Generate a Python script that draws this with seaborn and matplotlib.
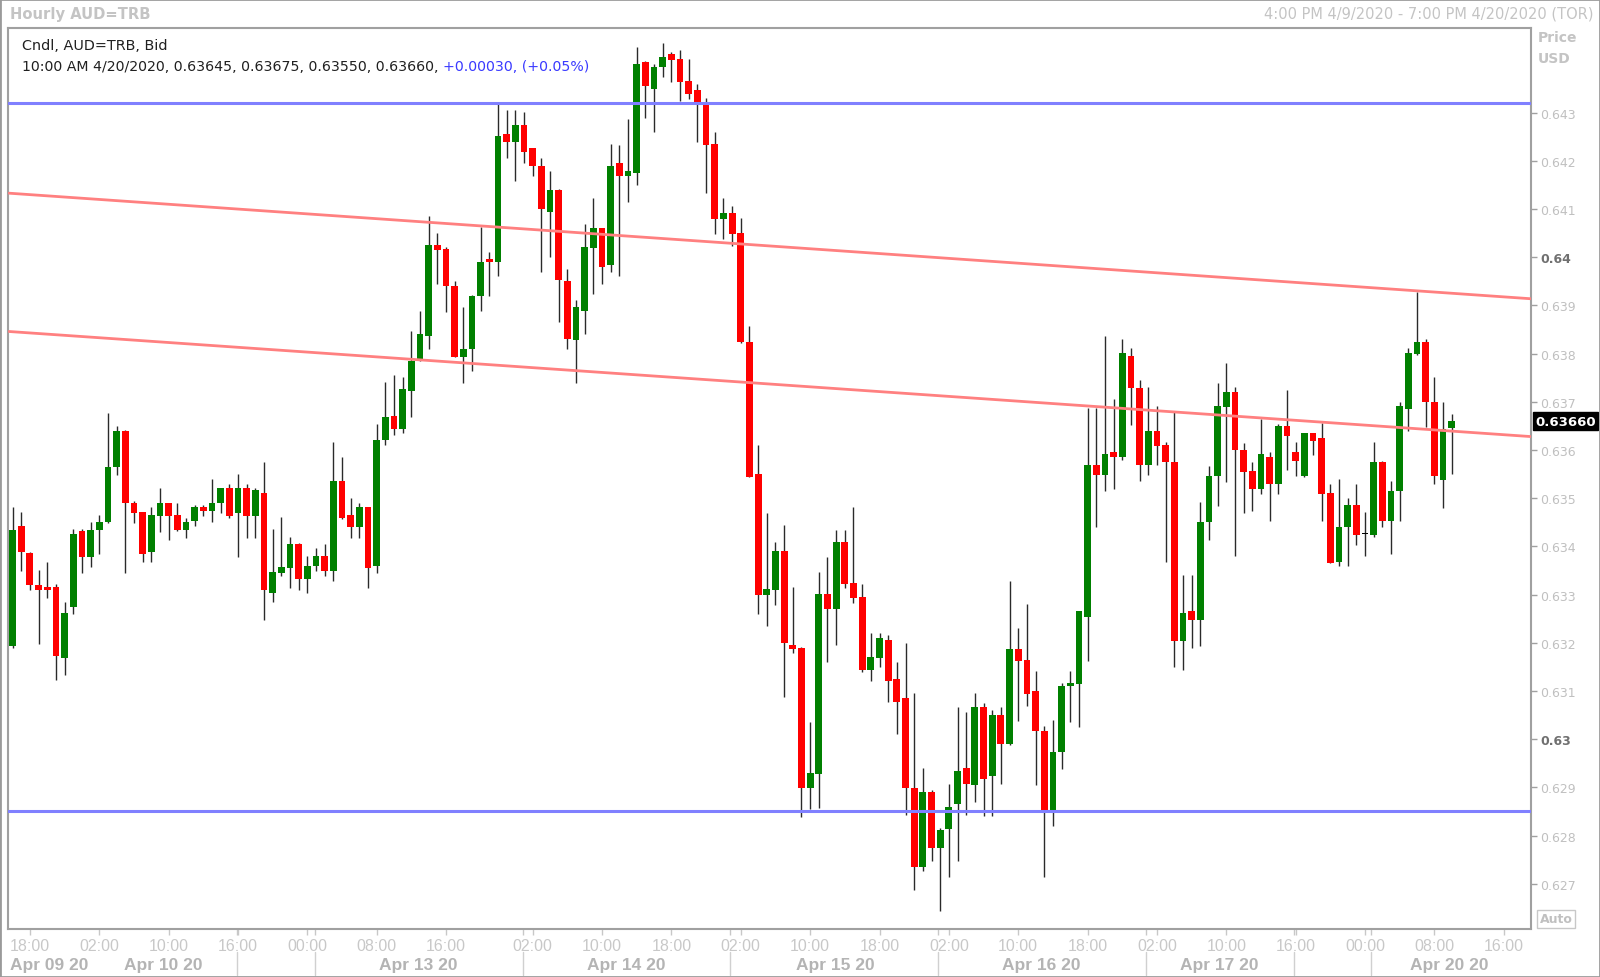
import numpy as np
import matplotlib
matplotlib.use('Agg')
import matplotlib.pyplot as plt
import matplotlib.transforms as mtransforms
from matplotlib.patches import Rectangle
import seaborn as sns

# hourly AUD candles, 4:00 PM 4/9/2020 .. 10:00 AM 4/20/2020
opens = [
    0.63194, 0.63442, 0.63386, 0.63321, 0.63315, 0.63315, 0.63169, 0.63274, 0.63431, 0.63379,
    0.63434, 0.63450, 0.63564, 0.63640, 0.63490, 0.63471, 0.63388, 0.63464, 0.63490, 0.63465,
    0.63434, 0.63453, 0.63481, 0.63474, 0.63490, 0.63521, 0.63469, 0.63521, 0.63464, 0.63511,
    0.63303, 0.63345, 0.63355, 0.63406, 0.63332, 0.63359, 0.63380, 0.63348, 0.63536, 0.63465,
    0.63440, 0.63481, 0.63359, 0.63621, 0.63670, 0.63644, 0.63723, 0.63789, 0.63836, 0.64025,
    0.64017, 0.63941, 0.63794, 0.63810, 0.63920, 0.63996, 0.63990, 0.64255, 0.64240, 0.64274,
    0.64226, 0.64190, 0.64095, 0.64140, 0.63951, 0.63829, 0.63889, 0.64019, 0.64060, 0.63983,
    0.64196, 0.64169, 0.64175, 0.64406, 0.64349, 0.64394, 0.64422, 0.64411, 0.64366, 0.64347,
    0.64318, 0.64235, 0.64079, 0.64092, 0.64050, 0.63825, 0.63550, 0.63300, 0.63309, 0.63390,
    0.63195, 0.63190, 0.62899, 0.62928, 0.63301, 0.63270, 0.63409, 0.63324, 0.63295, 0.63143,
    0.63169, 0.63206, 0.63125, 0.63086, 0.62899, 0.62734, 0.62890, 0.62774, 0.62813, 0.62865,
    0.62941, 0.62904, 0.63066, 0.62923, 0.63051, 0.62990, 0.63187, 0.63165, 0.63101, 0.63017,
    0.62849, 0.62974, 0.63111, 0.63115, 0.63254, 0.63570, 0.63549, 0.63596, 0.63585, 0.63795,
    0.63729, 0.63569, 0.63640, 0.63610, 0.63576, 0.63204, 0.63267, 0.63248, 0.63450, 0.63546,
    0.63689, 0.63720, 0.63601, 0.63557, 0.63519, 0.63585, 0.63530, 0.63650, 0.63595, 0.63546,
    0.63635, 0.63624, 0.63511, 0.63367, 0.63440, 0.63485, 0.63425, 0.63424, 0.63576, 0.63453,
    0.63516, 0.63685, 0.63799, 0.63825, 0.63699, 0.63538, 0.63645]
highs = [
    0.63481, 0.63471, 0.63388, 0.63351, 0.63367, 0.63322, 0.63285, 0.63436, 0.63436, 0.63451,
    0.63465, 0.63677, 0.63650, 0.63642, 0.63495, 0.63472, 0.63481, 0.63521, 0.63491, 0.63490,
    0.63460, 0.63485, 0.63485, 0.63540, 0.63522, 0.63530, 0.63550, 0.63530, 0.63521, 0.63576,
    0.63436, 0.63462, 0.63419, 0.63407, 0.63381, 0.63396, 0.63406, 0.63616, 0.63586, 0.63500,
    0.63490, 0.63482, 0.63655, 0.63741, 0.63756, 0.63751, 0.63846, 0.63889, 0.64085, 0.64050,
    0.64021, 0.63951, 0.63896, 0.63921, 0.64063, 0.64012, 0.64318, 0.64306, 0.64306, 0.64301,
    0.64227, 0.64207, 0.64180, 0.64141, 0.63976, 0.63912, 0.64069, 0.64124, 0.64061, 0.64235,
    0.64232, 0.64287, 0.64436, 0.64407, 0.64401, 0.64445, 0.64425, 0.64431, 0.64411, 0.64360,
    0.64330, 0.64261, 0.64124, 0.64106, 0.64082, 0.63857, 0.63610, 0.63470, 0.63409, 0.63444,
    0.63315, 0.63191, 0.63036, 0.63346, 0.63379, 0.63435, 0.63435, 0.63481, 0.63322, 0.63221,
    0.63221, 0.63216, 0.63160, 0.63200, 0.63095, 0.62941, 0.62895, 0.62816, 0.62907, 0.63067,
    0.63056, 0.63095, 0.63076, 0.63060, 0.63066, 0.63329, 0.63230, 0.63281, 0.63142, 0.63027,
    0.63040, 0.63116, 0.63142, 0.63266, 0.63687, 0.63687, 0.63837, 0.63706, 0.63831, 0.63811,
    0.63746, 0.63730, 0.63692, 0.63616, 0.63678, 0.63341, 0.63341, 0.63492, 0.63566, 0.63739,
    0.63781, 0.63730, 0.63615, 0.63576, 0.63664, 0.63595, 0.63654, 0.63725, 0.63616, 0.63636,
    0.63636, 0.63656, 0.63530, 0.63540, 0.63500, 0.63530, 0.63471, 0.63616, 0.63577, 0.63536,
    0.63700, 0.63811, 0.63929, 0.63830, 0.63751, 0.63699, 0.63675]
lows = [
    0.63189, 0.63348, 0.63310, 0.63198, 0.63293, 0.63123, 0.63134, 0.63260, 0.63345, 0.63358,
    0.63384, 0.63449, 0.63548, 0.63345, 0.63449, 0.63368, 0.63368, 0.63429, 0.63414, 0.63432,
    0.63418, 0.63443, 0.63464, 0.63450, 0.63469, 0.63460, 0.63379, 0.63418, 0.63418, 0.63248,
    0.63284, 0.63339, 0.63313, 0.63310, 0.63303, 0.63348, 0.63339, 0.63329, 0.63457, 0.63418,
    0.63418, 0.63313, 0.63345, 0.63610, 0.63631, 0.63635, 0.63669, 0.63785, 0.63810, 0.63945,
    0.63886, 0.63793, 0.63739, 0.63765, 0.63889, 0.63920, 0.63961, 0.64205, 0.64159, 0.64195,
    0.64169, 0.63969, 0.64000, 0.63865, 0.63810, 0.63739, 0.63841, 0.63924, 0.63945, 0.63969,
    0.63961, 0.64114, 0.64150, 0.64289, 0.64259, 0.64375, 0.64364, 0.64325, 0.64328, 0.64240,
    0.64133, 0.64048, 0.64038, 0.64024, 0.63823, 0.63544, 0.63260, 0.63234, 0.63279, 0.63088,
    0.63179, 0.62839, 0.62855, 0.62858, 0.63160, 0.63195, 0.63314, 0.63283, 0.63139, 0.63120,
    0.63150, 0.63077, 0.63010, 0.62843, 0.62688, 0.62727, 0.62748, 0.62644, 0.62715, 0.62748,
    0.62843, 0.62869, 0.62840, 0.62840, 0.62908, 0.62988, 0.63038, 0.63068, 0.62904, 0.62715,
    0.62820, 0.62939, 0.63035, 0.63025, 0.63163, 0.63440, 0.63514, 0.63519, 0.63579, 0.63653,
    0.63535, 0.63549, 0.63568, 0.63368, 0.63149, 0.63144, 0.63189, 0.63194, 0.63414, 0.63483,
    0.63534, 0.63380, 0.63469, 0.63473, 0.63509, 0.63453, 0.63509, 0.63559, 0.63546, 0.63545,
    0.63590, 0.63453, 0.63365, 0.63359, 0.63360, 0.63404, 0.63380, 0.63419, 0.63440, 0.63384,
    0.63453, 0.63640, 0.63798, 0.63647, 0.63530, 0.63479, 0.63550]
closes = [
    0.63435, 0.63388, 0.63319, 0.63310, 0.63310, 0.63173, 0.63262, 0.63426, 0.63379, 0.63435,
    0.63450, 0.63565, 0.63640, 0.63490, 0.63469, 0.63384, 0.63465, 0.63490, 0.63464, 0.63434,
    0.63450, 0.63481, 0.63474, 0.63490, 0.63521, 0.63464, 0.63521, 0.63464, 0.63517, 0.63310,
    0.63346, 0.63357, 0.63406, 0.63332, 0.63360, 0.63380, 0.63348, 0.63536, 0.63459, 0.63440,
    0.63481, 0.63355, 0.63621, 0.63668, 0.63644, 0.63727, 0.63785, 0.63841, 0.64025, 0.64016,
    0.63940, 0.63794, 0.63810, 0.63920, 0.63990, 0.63990, 0.64251, 0.64240, 0.64274, 0.64219,
    0.64189, 0.64100, 0.64140, 0.63953, 0.63830, 0.63896, 0.64021, 0.64060, 0.63979, 0.64190,
    0.64169, 0.64180, 0.64401, 0.64355, 0.64395, 0.64415, 0.64410, 0.64364, 0.64339, 0.64323,
    0.64234, 0.64079, 0.64092, 0.64048, 0.63824, 0.63545, 0.63300, 0.63311, 0.63390, 0.63199,
    0.63188, 0.62899, 0.62930, 0.63301, 0.63270, 0.63409, 0.63323, 0.63293, 0.63143, 0.63171,
    0.63209, 0.63120, 0.63077, 0.62899, 0.62734, 0.62890, 0.62774, 0.62811, 0.62860, 0.62935,
    0.62908, 0.63066, 0.62918, 0.63051, 0.62990, 0.63187, 0.63163, 0.63094, 0.63016, 0.62849,
    0.62974, 0.63111, 0.63116, 0.63265, 0.63570, 0.63549, 0.63591, 0.63585, 0.63802, 0.63729,
    0.63569, 0.63640, 0.63609, 0.63575, 0.63204, 0.63262, 0.63248, 0.63450, 0.63546, 0.63691,
    0.63720, 0.63600, 0.63555, 0.63519, 0.63592, 0.63530, 0.63650, 0.63630, 0.63578, 0.63635,
    0.63619, 0.63509, 0.63366, 0.63441, 0.63485, 0.63424, 0.63425, 0.63576, 0.63453, 0.63516,
    0.63691, 0.63801, 0.63825, 0.63699, 0.63546, 0.63644, 0.63660]

# drawn lines (candle index, price)
trend_x = [-0.4, 175.1]
upper_trend = [0.64133, 0.63914]
lower_trend = [0.63846, 0.63628]
levels = [0.64320, 0.62850]
last_price = 0.63660

# axis labels
time_pos = [2, 10, 18, 26, 34, 42, 50, 60, 68, 76, 84, 92, 100, 108, 116, 124, 132, 140, 148, 156, 164, 172]
time_lbl = ['18:00', '02:00', '10:00', '16:00', '00:00', '08:00', '16:00', '02:00', '10:00', '18:00', '02:00',
            '10:00', '18:00', '02:00', '10:00', '18:00', '02:00', '10:00', '16:00', '00:00', '08:00', '16:00']
sep_pos = [25.9, 34.9, 58.9, 82.8, 106.7, 130.7, 147.8, 156.7]
date_pos = [4.2, 17.4, 46.8, 70.8, 94.9, 118.6, 139.2, 165.7]
date_lbl = ['Apr 09 20', 'Apr 10 20', 'Apr 13 20', 'Apr 14 20', 'Apr 15 20', 'Apr 16 20', 'Apr 17 20', 'Apr 20 20']
price_ticks = [0.627, 0.628, 0.629, 0.630, 0.631, 0.632, 0.633, 0.634, 0.635,
               0.636, 0.637, 0.638, 0.639, 0.640, 0.641, 0.642, 0.643]
price_lbl = ['0.627', '0.628', '0.629', '0.63', '0.631', '0.632', '0.633', '0.634', '0.635',
             '0.636', '0.637', '0.638', '0.639', '0.64', '0.641', '0.642', '0.643']

sns.set_style('white')
plt.rcParams['font.family'] = ['DejaVu Sans']

W, H = 1600, 978
fig = plt.figure(figsize=(16, 9.78), dpi=100)

def fx(px):
    return px / W

def fy(py):
    return 1 - py / H

ax = fig.add_axes([fx(8.2), fy(929.6), fx(1530.6 - 8.2), (929.6 - 28.6) / H])

o = np.array(opens)
c = np.array(closes)
x = np.arange(len(o))
colors = np.where(c > o, '#008000', np.where(c < o, '#ff0000', '#000000'))
bottom = np.minimum(o, c)
height = np.maximum(np.abs(c - o), 0.00002)

ax.vlines(x, lows, highs, color='#2a2a2a', linewidth=1.0, zorder=2)
ax.bar(x, height, bottom=bottom, width=0.78, color=colors, linewidth=0, zorder=3)

sns.lineplot(x=trend_x, y=upper_trend, ax=ax, color='#ff8080', linewidth=2, zorder=4)
sns.lineplot(x=trend_x, y=lower_trend, ax=ax, color='#ff8080', linewidth=2, zorder=4)
for lv in levels:
    ax.axhline(lv, color='#8080ff', linewidth=2.2, zorder=4)

ax.set_xlim(-0.5, 175.1)
ax.set_ylim(0.62607, 0.644766)

# y axis on the right
ax.yaxis.tick_right()
ax.set_yticks(price_ticks)
ax.set_yticklabels(price_lbl)
ax.tick_params(axis='y', direction='out', length=4, width=1, color='#a0a0a0', pad=3,
               labelsize=9, labelcolor='#c0c0c0', right=True, left=False)
for lbl in ax.get_yticklabels():
    if lbl.get_text() in ('0.64', '0.63'):
        lbl.set_fontweight('bold')
        lbl.set_color('#707070')

# x axis
ax.set_xticks(time_pos)
ax.set_xticklabels(time_lbl, fontfamily='Liberation Sans')
ax.set_xticks(sep_pos, minor=True)
ax.tick_params(axis='x', which='both', direction='out', length=4, width=1, color='#c8c8c8',
               pad=3, labelsize=11.5, labelcolor='#c8c8c8', bottom=True)
ax.set_xlabel('')
ax.set_ylabel('')

for s in ax.spines.values():
    s.set_color('#a0a0a0')
    s.set_linewidth(1.5)

trans = mtransforms.blended_transform_factory(ax.transData, ax.transAxes)
for sx in sep_pos:
    ax.plot([sx, sx], [-0.026, -0.052], transform=trans, color='#d0d0d0', lw=1, clip_on=False)
for dx, dl in zip(date_pos, date_lbl):
    ax.text(dx, -0.0395, dl, transform=trans, ha='center', va='center', fontsize=12.5,
            fontweight='bold', color='#b4b4b4', fontfamily='Liberation Sans')

# last price tag
tag = mtransforms.blended_transform_factory(ax.transAxes, ax.transData)
ax.text(1.003, last_price, '0.63660', transform=tag, ha='left', va='center', fontsize=9.5,
        fontweight='bold', color='white', clip_on=False,
        bbox=dict(facecolor='black', edgecolor='black', pad=1.8))

# header texts
fig.text(fx(10), fy(14), 'Hourly AUD=TRB', ha='left', va='center', fontsize=10.6,
         fontweight='bold', color='#c4c4c4')
fig.text(fx(1594), fy(14), '4:00 PM 4/9/2020 - 7:00 PM 4/20/2020 (TOR)', ha='right', va='center',
         fontsize=10.5, color='#c4c4c4')
fig.text(fx(22), fy(46), 'Cndl, AUD=TRB, Bid', ha='left', va='center', fontsize=10.4, color='#202020')
t1 = fig.text(fx(22), fy(67), '10:00 AM 4/20/2020, 0.63645, 0.63675, 0.63550, 0.63660, ',
              ha='left', va='center', fontsize=10.2, color='#202020')
fig.canvas.draw()
bb = t1.get_window_extent()
fig.text(bb.x1 / W, fy(67), '+0.00030, (+0.05%)', ha='left', va='center', fontsize=10.2, color='#3a3aff')

fig.text(fx(1538), fy(38), 'Price', ha='left', va='center', fontsize=10, fontweight='bold', color='#c4c4c4')
fig.text(fx(1538), fy(59), 'USD', ha='left', va='center', fontsize=10, fontweight='bold', color='#c4c4c4')
fig.text(fx(1556), fy(920), 'Auto', ha='center', va='center', fontsize=9, fontweight='bold', color='#c0c0c0',
         bbox=dict(facecolor='white', edgecolor='#c8c8c8', pad=1.5))

fig.patches.append(Rectangle((0, 0), 1, 1, transform=fig.transFigure, fill=False,
                             edgecolor='#9a9a9a', linewidth=2))

fig.savefig('out.png', dpi=100)
